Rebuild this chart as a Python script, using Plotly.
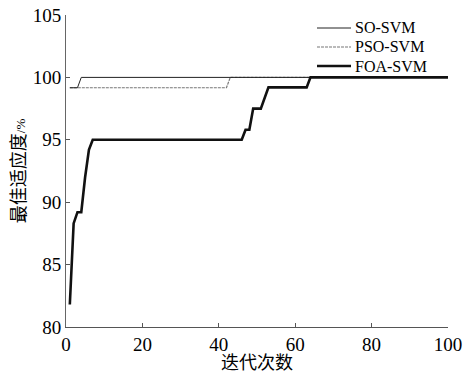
import plotly.graph_objects as go

# ---- data (breakpoints) ----
so_x = [1, 3, 4, 100]
so_y = [99.17, 99.17, 100, 100]

pso_x = [1, 42, 43, 100]
pso_y = [99.17, 99.17, 100, 100]

foa_x = [1, 2, 3, 4, 5, 6, 7, 46, 47, 48, 49, 51, 53, 63, 64, 100]
foa_y = [81.8, 88.3, 89.2, 89.2, 92.0, 94.2, 95.0, 95.0, 95.8, 95.8, 97.5, 97.5, 99.2, 99.2, 100, 100]

series_names = ["SO-SVM", "PSO-SVM", "FOA-SVM"]
x_ticks = [0, 20, 40, 60, 80, 100]
y_ticks = [80, 85, 90, 95, 100, 105]

SERIF = "Liberation Serif, Times New Roman, serif"
CJK = "Liberation Serif, Noto Sans CJK SC, serif"
TXT = "#000000"

styles = {
    "SO-SVM": dict(color="#222222", width=1, dash="solid"),
    "PSO-SVM": dict(color="#777777", width=1.2, dash="3px,1px"),
    "FOA-SVM": dict(color="#111111", width=2.6, dash="solid"),
}

fig = go.Figure()
fig.add_trace(go.Scatter(x=pso_x, y=pso_y, mode="lines", name="PSO-SVM",
                         line=styles["PSO-SVM"], showlegend=False))
fig.add_trace(go.Scatter(x=so_x, y=so_y, mode="lines", name="SO-SVM",
                         line=styles["SO-SVM"], showlegend=False))
fig.add_trace(go.Scatter(x=foa_x, y=foa_y, mode="lines", name="FOA-SVM",
                         line=styles["FOA-SVM"], showlegend=False))

# manual compact legend (paper coordinates)
W, H = 465, 373
ml, mr, mt, mb = 66, 17, 15, 46
pw, ph = W - ml - mr, H - mt - mb
def px2paper(px, py):
    return (px - ml) / pw, (H - mb - py) / ph

leg_rows = [28, 47, 66]
for name, py in zip(series_names, leg_rows):
    x0, y0 = px2paper(317, py)
    x1, _ = px2paper(351, py)
    st = styles[name]
    fig.add_shape(type="line", xref="paper", yref="paper", x0=x0, x1=x1, y0=y0, y1=y0,
                  line=dict(color=st["color"], width=st["width"], dash=st["dash"]))
    tx, _ = px2paper(354, py)
    fig.add_annotation(xref="paper", yref="paper", x=tx, y=y0, text=name, showarrow=False,
                       xanchor="left", yanchor="middle", borderpad=0,
                       font=dict(family=SERIF, size=16, color=TXT))

fig.update_layout(
    width=W, height=H,
    margin=dict(l=ml, r=mr, t=mt, b=mb, autoexpand=False),
    paper_bgcolor="white", plot_bgcolor="white",
    font=dict(family=SERIF, size=19, color=TXT),
    showlegend=False,
)
fig.update_xaxes(
    range=[0, 100], tickvals=x_ticks, ticktext=[str(v) for v in x_ticks],
    automargin=False,
    showgrid=False, zeroline=False, showline=True, linecolor="#555555", linewidth=1,
    ticks="inside", ticklen=4, tickcolor="#555555",
    tickfont=dict(family=SERIF, size=19, color=TXT),
    title=dict(text="迭代次数", font=dict(family=CJK, size=18, color=TXT), standoff=0),
)
fig.update_yaxes(
    range=[80, 105], tickvals=y_ticks, ticktext=[str(v) for v in y_ticks],
    automargin=False,
    showgrid=False, zeroline=False, showline=True, linecolor="#666666", linewidth=1,
    ticks="inside", ticklen=4, tickcolor="#555555",
    tickfont=dict(family=SERIF, size=19, color=TXT),
    title=dict(text='最佳适应度<span style="font-size:13px">/%</span>',
               font=dict(family=CJK, size=18, color=TXT), standoff=2),
)

fig.write_html("out.html")
